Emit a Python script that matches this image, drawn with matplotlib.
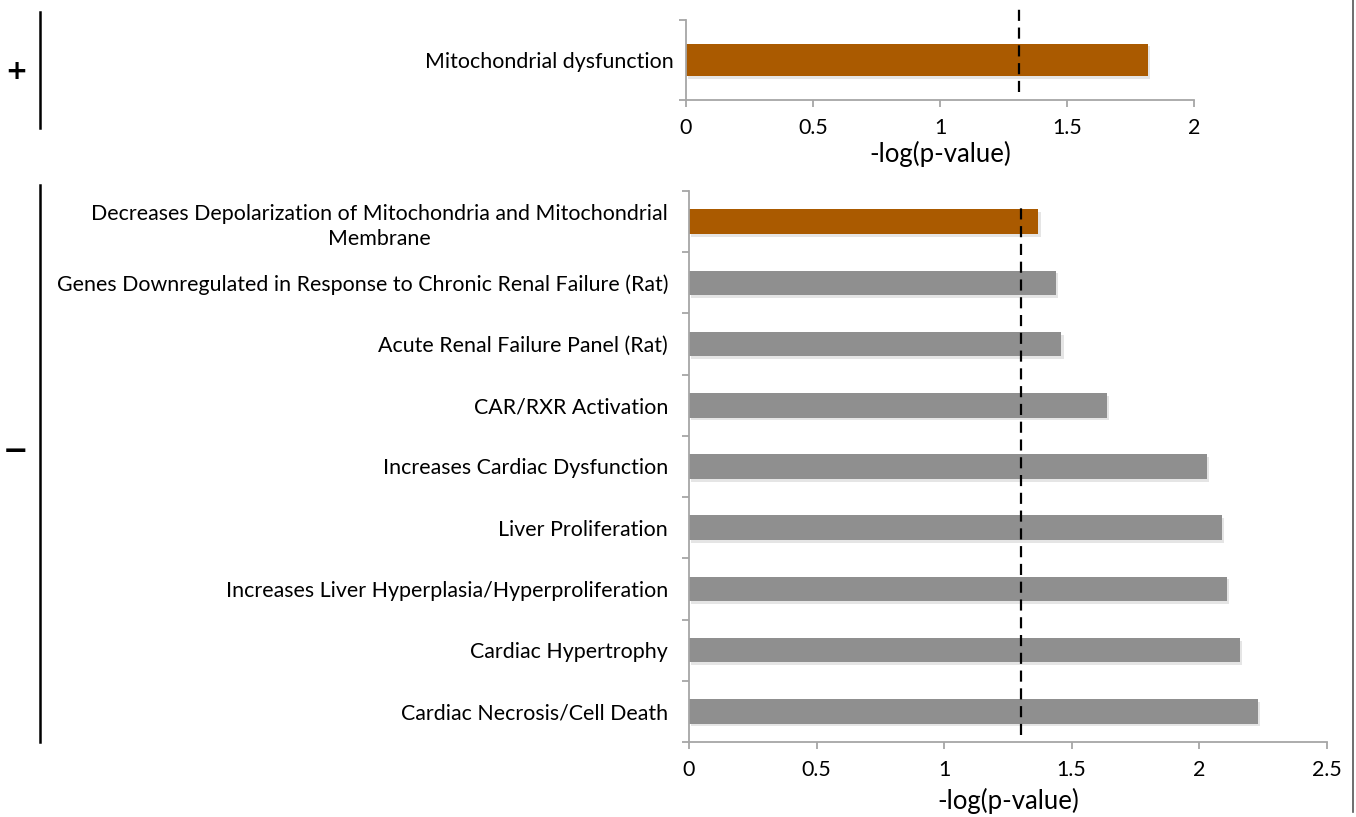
import matplotlib
matplotlib.use("Agg")
from matplotlib import pyplot as plt
from matplotlib import patheffects
from matplotlib.lines import Line2D
import matplotlib.transforms as mtransforms

plt.rcParams['font.family'] = ['Lato', 'DejaVu Sans']

# pathway enriched in the "+" set
up_terms = ["Mitochondrial dysfunction"]
up_values = [1.82]

# pathways enriched in the "-" set, listed top to bottom
down_terms = [
    "Decreases Depolarization of Mitochondria and Mitochondrial\nMembrane",
    "Genes Downregulated in Response to Chronic Renal Failure (Rat)",
    "Acute Renal Failure Panel (Rat)",
    "CAR/RXR Activation",
    "Increases Cardiac Dysfunction",
    "Liver Proliferation",
    "Increases Liver Hyperplasia/Hyperproliferation",
    "Cardiac Hypertrophy",
    "Cardiac Necrosis/Cell Death",
]
down_values = [1.37, 1.44, 1.46, 1.64, 2.03, 2.09, 2.11, 2.16, 2.23]
down_colors = ["#aa5a00"] + ["#8f8f8f"] * 8

threshold_up = 1.31
threshold_down = 1.30

up_ticks = [0, 0.5, 1, 1.5, 2]
up_ticklabels = ["0", "0.5", "1", "1.5", "2"]
down_ticks = [0, 0.5, 1, 1.5, 2, 2.5]
down_ticklabels = ["0", "0.5", "1", "1.5", "2", "2.5"]

FS = 15.4
LABEL_FS = 18.5
SPINE = "#a6a6a6"
shadow = [patheffects.SimplePatchShadow(offset=(1.5, -2), shadow_rgbFace="#aaaaaa", alpha=0.3),
          patheffects.Normal()]

W, H = 1356, 817
fig = plt.figure(figsize=(W / 100, H / 100), dpi=100)


def px_axes(x0, y0, x1, y1):
    return fig.add_axes([x0 / W, 1 - y1 / H, (x1 - x0) / W, (y1 - y0) / H])


def style_axes(ax, xmax, ticks, ticklabels, ylabel_pad, xlabel_pad):
    for side in ("top", "right"):
        ax.spines[side].set_visible(False)
    for side in ("left", "bottom"):
        ax.spines[side].set_color(SPINE)
        ax.spines[side].set_linewidth(1.3)
    ax.set_xlim(0, xmax)
    ax.set_xticks(ticks)
    ax.set_xticklabels(ticklabels, fontsize=FS)
    ax.tick_params(axis="x", direction="out", length=5, width=1.3, color=SPINE, pad=8)
    ax.tick_params(axis="y", which="major", length=0, pad=ylabel_pad, labelsize=FS)
    ax.tick_params(axis="y", which="minor", direction="out", length=5, width=1.3, color=SPINE)
    ax.set_xlabel("-log(p-value)", fontsize=LABEL_FS, labelpad=xlabel_pad)


def threshold_line(ax, x, y0, y1):
    trans = mtransforms.blended_transform_factory(ax.transData, ax.transAxes)
    ax.add_line(Line2D([x, x], [y0, y1], transform=trans, color="black", lw=1.6,
                       dashes=(5, 3), clip_on=False, zorder=5))


# upper panel
ax1 = px_axes(686, 20, 1194, 100)
ax1.barh(range(len(up_terms)), up_values, height=0.41, color="#aa5a00",
         path_effects=shadow, zorder=2)
ax1.set_ylim(len(up_terms) - 0.5, -0.5)
ax1.set_yticks(range(len(up_terms)))
ax1.set_yticklabels(up_terms)
ax1.set_yticks([-0.5, 0.5], minor=True)
style_axes(ax1, 2, up_ticks, up_ticklabels, 9, 2)
threshold_line(ax1, threshold_up, 0.1, 1.19)

# lower panel
ax2 = px_axes(689, 191, 1326.7, 742)
ax2.barh(range(len(down_terms)), down_values, height=0.4, color=down_colors,
         path_effects=shadow, zorder=2)
ax2.set_ylim(len(down_terms) - 0.5, -0.5)
ax2.set_yticks(range(len(down_terms)))
ax2.set_yticklabels(down_terms)
ax2.set_yticks([i - 0.5 for i in range(len(down_terms) + 1)], minor=True)
for lab in ax2.get_yticklabels():
    lab.set_multialignment("center")
    lab.set_linespacing(1.35)
style_axes(ax2, 2.5, down_ticks, down_ticklabels, 15, 6)
threshold_line(ax2, threshold_down, 0.013, 0.97)

# group brackets with +/- markers
fig.add_artist(Line2D([40 / W, 40 / W], [1 - 12 / H, 1 - 128 / H], color="black", lw=1.8))
fig.add_artist(Line2D([40 / W, 40 / W], [1 - 185 / H, 1 - 742 / H], color="black", lw=1.8))
fig.text(16 / W, 1 - 72 / H, "+", fontsize=19, fontweight="bold", ha="center", va="center",
         family="DejaVu Sans")
fig.text(16 / W, 1 - 452 / H, "\u2212", fontsize=22, fontweight="bold", ha="center", va="center",
         family="DejaVu Sans")

# right border line
fig.add_artist(Line2D([1353 / W, 1353 / W], [1, 1 - 812 / H], color="#555555", lw=1.2))

fig.savefig("out.png", dpi=100)
